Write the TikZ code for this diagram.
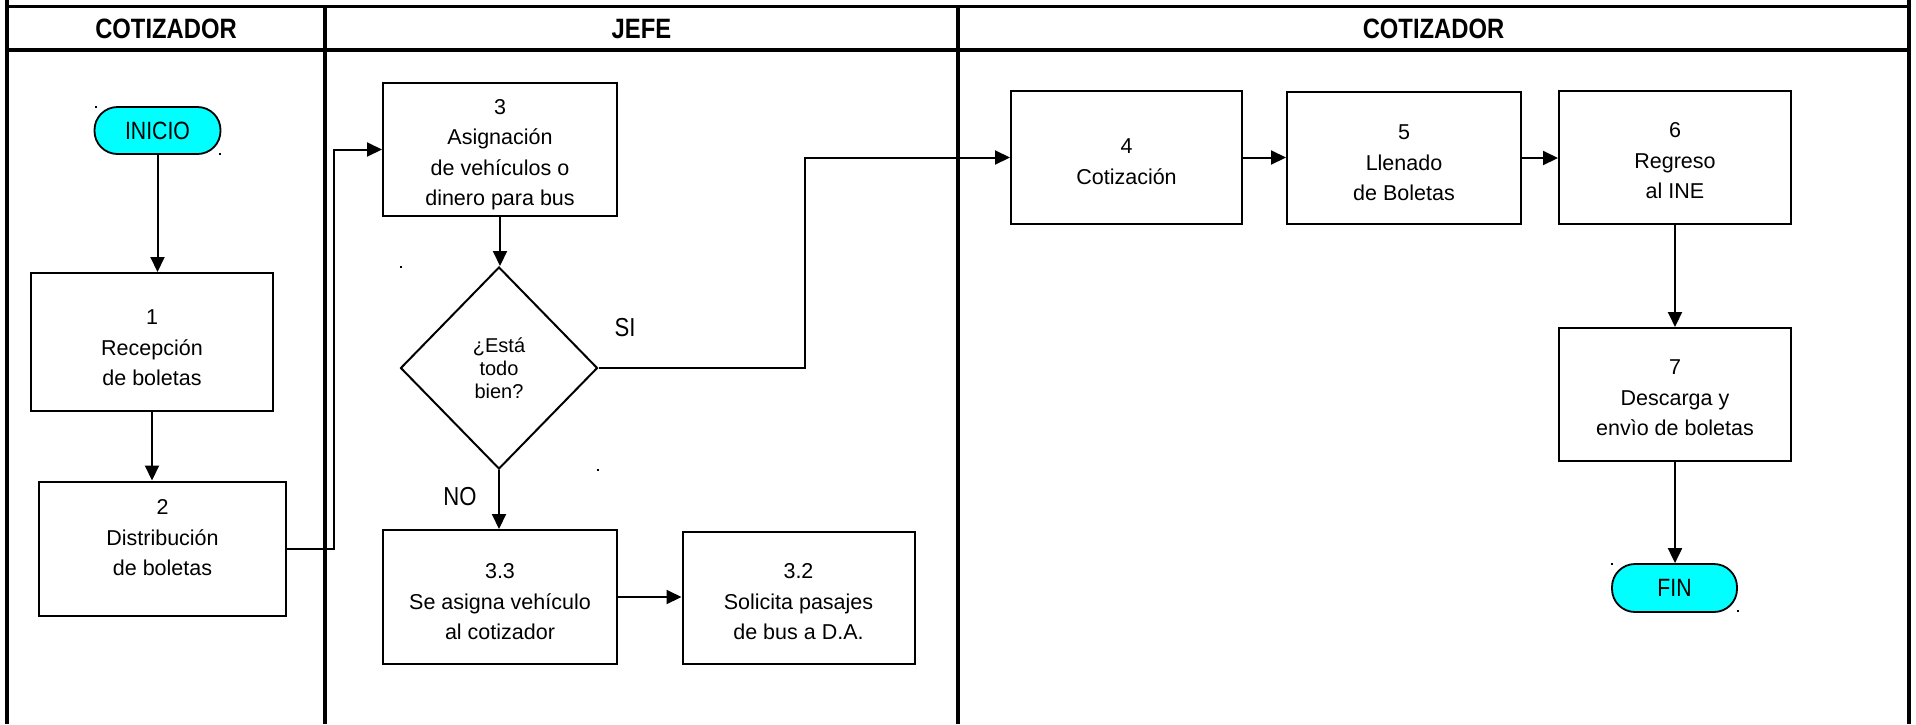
\documentclass[tikz,border=0pt]{standalone}
\usepackage{fontspec}
\setmainfont{Liberation Sans}
\newfontfamily\narrowfont[FakeStretch=0.85]{Liberation Sans}
\usetikzlibrary{shapes.geometric,arrows.meta}
\definecolor{termcyan}{HTML}{00FFFF}
\begin{document}
\begin{tikzpicture}[x=1pt,y=-1pt,
  sz/.style 2 args={minimum width=#1,minimum height=#2},
  box/.style={draw,line width=2pt,rectangle,inner sep=0pt},
  txt/.style={align=center,inner sep=0pt,font=\fontsize{21.5}{30.5}\selectfont},
  term/.style={draw,line width=1.8pt,fill=termcyan,rounded corners=23pt,inner sep=0pt,font=\narrowfont\fontsize{25}{25}\selectfont},
  dec/.style={draw,diamond,line width=2pt,inner sep=0pt,minimum width=197pt,minimum height=202pt,align=center,font=\fontsize{20}{23}\selectfont},
  conn/.style={line width=2pt,-{Triangle[length=15pt,width=14pt]}},
  lane/.style={line width=4.5pt},
  lbl/.style={font=\narrowfont\fontsize{26}{26}\selectfont},
  hdr/.style={font=\narrowfont\bfseries\fontsize{28}{28}\selectfont},
  dot/.style={fill=black}
]
\useasboundingbox (0,0) rectangle (1916,724);
\fill[white] (0,0) rectangle (1916,724);

% swimlane frame
\draw[lane] (7,0) -- (7,724);
\draw[lane] (1909,0) -- (1909,724);
\draw[line width=3pt] (7,6) -- (1909,6);
\draw[lane] (7,50) -- (1909,50);
\draw[lane] (325,6) -- (325,724);
\draw[lane] (958,6) -- (958,724);

\node[hdr] (h1) at (166,29) {COTIZADOR};
\node[hdr] (h2) at (641.5,29) {JEFE};
\node[hdr] (h3) at (1433.5,29) {COTIZADOR};

% nodes
\node[term,sz={126pt}{47pt}] (ini) at (157.5,130.5) {INICIO};

\node[box,sz={242pt}{138pt}] (b1) at (152,342) {};
\node[txt] (t1) at (152,348) {1\\Recepción\\de boletas};

\node[box,sz={247pt}{134pt}] (b2) at (162.5,548.5) {};
\node[txt] (t2) at (162.5,538) {2\\Distribución\\de boletas};

\node[box,sz={234pt}{133pt}] (b3) at (500,149.5) {};
\node[txt] (t3) at (500,154.5) {3\\Asignación\\de vehículos o\\dinero para bus};

\node[dec] (dia) at (499,368) {¿Está\\todo\\bien?};

\node[box,sz={234pt}{134pt}] (b33) at (500,597) {};
\node[txt] (t33) at (500,602) {3.3\\Se asigna vehículo\\al cotizador};

\node[box,sz={232pt}{132pt}] (b32) at (798.5,598) {};
\node[txt] (t32) at (798.5,602) {3.2\\Solicita pasajes\\de bus a D.A.};

\node[box,sz={231pt}{133pt}] (b4) at (1126.5,157.5) {};
\node[txt] (t4) at (1126.5,161.5) {4\\Cotización};

\node[box,sz={234pt}{132pt}] (b5) at (1404,158) {};
\node[txt] (t5) at (1404,163) {5\\Llenado\\de Boletas};

\node[box,sz={232pt}{133pt}] (b6) at (1675,157.5) {};
\node[txt] (t6) at (1675,161) {6\\Regreso\\al INE};

\node[box,sz={232pt}{133pt}] (b7) at (1675,394.5) {};
\node[txt] (t7) at (1675,398) {7\\Descarga y\\envìo de boletas};

\node[term,sz={125pt}{48pt}] (fin) at (1674.5,588) {FIN};

\node[lbl] (si) at (625,328) {SI};
\node[lbl] (no) at (460,497) {NO};

\coordinate (j1) at (334,0);
\coordinate (j2) at (805,0);

% connectors
\draw[conn] (ini.south) -- (ini.south |- b1.north);
\draw[conn] (b1.south) -- (b1.south |- b2.north);
\draw[conn] (b2.east) -- (b2.east -| j1) -- (b3.west -| j1) -- (b3.west);
\draw[conn] (b3.south) -- (b3.south |- dia.north);
\draw[conn] (dia.south) -- (dia.south |- b33.north);
\draw[conn] (dia.east) -- (dia.east -| j2) -- (b4.west -| j2) -- (b4.west);
\draw[conn] (b33.east) -- (b33.east -| b32.west);
\draw[conn] (b4.east) -- (b4.east -| b5.west);
\draw[conn] (b5.east) -- (b5.east -| b6.west);
\draw[conn] (b6.south) -- (b7.north);
\draw[conn] (b7.south) -- (b7.south |- fin.north);

% small corner marks
\fill[dot] (95,106) rectangle (97,108);
\fill[dot] (219,153) rectangle (221,155);
\fill[dot] (400,266) rectangle (402,268);
\fill[dot] (597,469) rectangle (599,471);
\fill[dot] (1611,563) rectangle (1613,565);
\fill[dot] (1737,610) rectangle (1739,612);
\end{tikzpicture}
\end{document}
